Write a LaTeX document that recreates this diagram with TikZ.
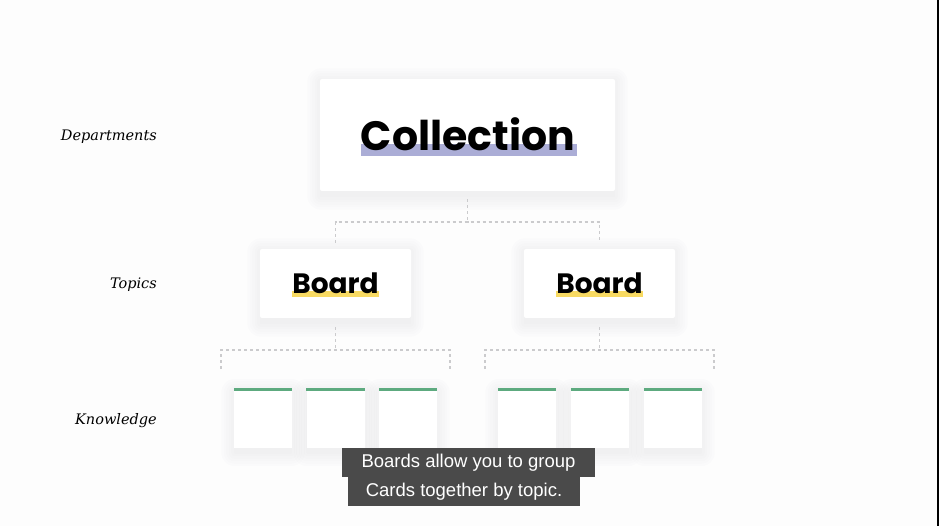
\documentclass[tikz,border=0pt]{standalone}
\usepackage{fontspec}
\setmainfont{Liberation Sans}
\newfontfamily\geofont{Poppins}[BoldFont=* Bold]
\newfontfamily\labelfont{DejaVu Serif}
\definecolor{bgc}{HTML}{FDFDFD}
\definecolor{lav}{HTML}{ABADD6}
\definecolor{yel}{HTML}{F8DA62}
\definecolor{grn}{HTML}{5DAA7F}
\definecolor{dashc}{HTML}{CBCBCD}
\definecolor{subbg}{HTML}{454545}
\definecolor{shc}{HTML}{505060}
\pgfdeclarelayer{back}
\pgfdeclarelayer{shadowlayer}
\pgfsetlayers{back,shadowlayer,main}
\tikzset{
  card/.style={fill=white, draw=none, rounded corners=2pt, inner sep=0pt},
  conn/.style={draw=dashc, line width=1.1pt, dash pattern=on 3pt off 3pt},
  lvl/.style={anchor=base east, font=\labelfont\itshape\fontsize{14.5}{16}\selectfont, text=black, inner sep=0pt},
  bigtxt/.style={anchor=base, inner sep=0pt, font=\geofont\bfseries\fontsize{41}{44}\selectfont},
  boardtxt/.style={anchor=base, inner sep=0pt, font=\geofont\bfseries\fontsize{28}{30}\selectfont},
  greenbar/.style={draw=grn, line width=2.4pt},
  sub/.style={fill=subbg, fill opacity=0.97, text opacity=1, text=white, inner sep=0pt,
    font=\fontsize{18.5}{20}\selectfont},
  shadowpiece/.style={fill=shc, fill opacity=0.012, draw=none},
}
\newcommand\mkshadow[1]{%
  \begin{pgfonlayer}{shadowlayer}
    \foreach \s in {0,2.5,...,12.5}{
      \fill[shadowpiece, rounded corners=\s pt+1pt]
        ([shift={(-\s pt,-6pt-\s pt)}]#1.south west) rectangle ([shift={(\s pt,-2pt+\s pt)}]#1.north east);
    }
  \end{pgfonlayer}}
\begin{document}
\begin{tikzpicture}[x=1pt,y=-1pt]
\begin{pgfonlayer}{back}
\fill[bgc] (0,0) rectangle (939,526);
\fill[black] (937,0) rectangle (939,526);
\end{pgfonlayer}
\useasboundingbox (0,0) rectangle (939,526);

% level labels
\node[lvl] (ldep) at (157,141) {Departments};
\node[lvl] (ltop) at (157,289) {Topics};
\node[lvl] (lkno) at (157,424) {Knowledge};

% collection
\node[card, minimum width=295pt, minimum height=112pt] (col) at (467.5,135) {};
\mkshadow{col}
\fill[lav] (361,144) rectangle (577,156);
\node[bigtxt] (colt) at (468,151) {Collection};

% boards
\node[card, minimum width=151pt, minimum height=69pt] (b1) at (335.5,283.5) {};
\node[card, minimum width=151pt, minimum height=69pt] (b2) at (599.5,283.5) {};
\mkshadow{b1}
\mkshadow{b2}
\fill[yel] (292,291) rectangle (379,297);
\fill[yel] (556,291) rectangle (643,297);
\node[boardtxt] (b1t) at (335.5,293.5) {Board};
\node[boardtxt] (b2t) at (599.5,293.5) {Board};

% connectors level 1
\coordinate (j0) at (467.5,222);
\draw[conn] ([yshift=-8pt]col.south) -- (j0);
\draw[conn] ([yshift=6pt]b1.north) |- (j0) -| ([yshift=6pt]b2.north);

% cards
\foreach \n/\x in {c1/263, c2/335.5, c3/408, c4/527, c5/600, c6/673}{
  \node[card, rounded corners=0pt, minimum width=58pt, minimum height=58pt] (\n) at (\x,418.5) {};
  \mkshadow{\n}
  \draw[greenbar] (\n.north west) -- (\n.north east);
}

% connectors level 2
\coordinate (j1) at (335.5,350);
\coordinate (j2) at (599.5,350);
\coordinate (e1) at (221,369);
\coordinate (e2) at (450,369);
\coordinate (e3) at (485,369);
\coordinate (e4) at (714,369);
\draw[conn] ([yshift=-9pt]b1.south) -- (j1);
\draw[conn] ([yshift=-9pt]b2.south) -- (j2);
\draw[conn] (e1) |- (j1) -| (e2);
\draw[conn] (e3) |- (j2) -| (e4);

% subtitles
\node[sub, minimum width=253pt, minimum height=29pt] (s1) at (468.5,462.5) {Boards allow you to group};
\node[sub, minimum width=232pt, minimum height=29pt] (s2) at (464,491.5) {Cards together by topic.};
\end{tikzpicture}
\end{document}
